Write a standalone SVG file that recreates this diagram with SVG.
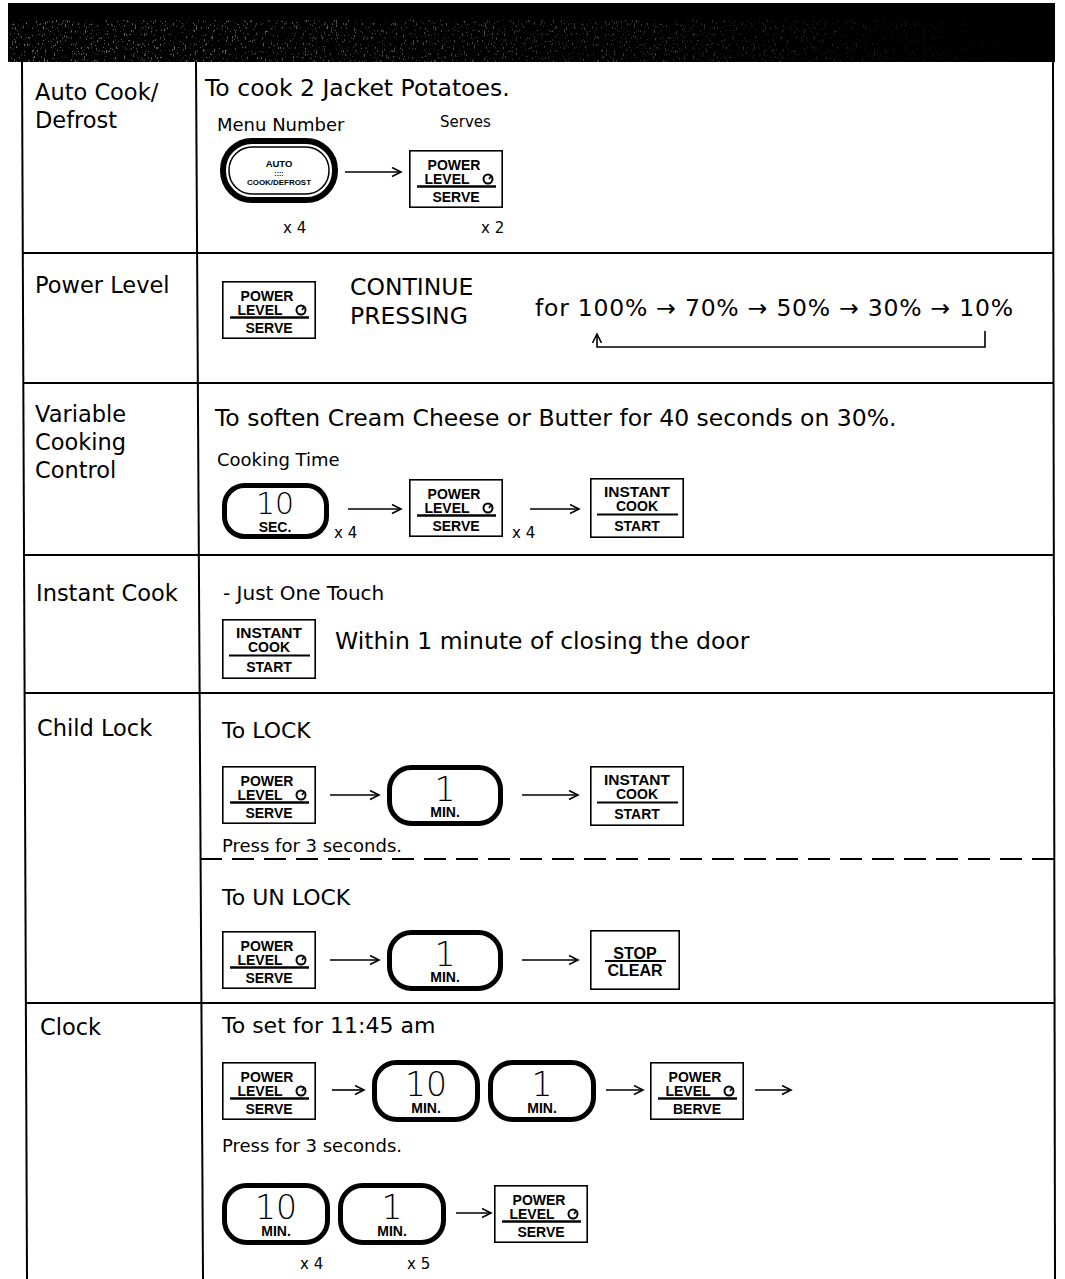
<svg xmlns="http://www.w3.org/2000/svg" width="1065" height="1279" viewBox="0 0 1065 1279">
  <style>
    .t { font-family: "DejaVu Sans", "Liberation Sans", sans-serif; fill: #000; }
    .lbl { font-size: 22.5px; }
    .body { font-size: 22px; }
    .big { font-size: 23.5px; }
    .small { font-size: 18px; }
    .tiny { font-size: 15px; }
    .key { font-family: "Liberation Sans", Arial, sans-serif; font-weight: bold; fill: #000; text-anchor: middle; }
    .dig { font-family: "DejaVu Sans", "Liberation Sans", sans-serif; font-weight: 200; fill: #000; text-anchor: middle; }
    .rule { stroke: #000; stroke-width: 2; fill: none; }
    .edge { stroke: #000; stroke-width: 1.6; fill: none; marker-end: url(#ah); }
    .box { fill: #fff; stroke: #000; stroke-width: 1.6; }
    .pill { fill: #fff; stroke: #000; stroke-width: 5; }
  </style>
  <defs>
    <marker id="ah" markerWidth="12" markerHeight="12" refX="10" refY="5" orient="auto" markerUnits="userSpaceOnUse">
      <path d="M1,0.5 L10,5 L1,9.5" fill="none" stroke="#000" stroke-width="1.6"/>
    </marker>
    <filter id="grain" x="0" y="0" width="100%" height="100%">
      <feTurbulence type="fractalNoise" baseFrequency="0.9 0.3" numOctaves="2" seed="7" result="n"/>
      <feColorMatrix in="n" type="matrix" values="0 0 0 0 0.6  0 0 0 0 0.6  0 0 0 0 0.6  10 0 0 0 -6.3"/>
    </filter>
    <linearGradient id="fade" x1="0" y1="0" x2="1" y2="0">
      <stop offset="0" stop-color="#fff" stop-opacity="0.55"/>
      <stop offset="0.6" stop-color="#fff" stop-opacity="0.3"/>
      <stop offset="1" stop-color="#fff" stop-opacity="0"/>
    </linearGradient>
    <mask id="fadeMask">
      <rect x="8" y="20" width="1047" height="42" fill="url(#fade)"/>
    </mask>

    <!-- POWER LEVEL / SERVE key -->
    <g id="pwKey">
      <rect class="box" x="0.8" y="0.8" width="92.4" height="56.4"/>
      <text class="key" x="45" y="20" font-size="14">POWER</text>
      <text class="key" x="38" y="34" font-size="14">LEVEL</text>
      <circle cx="79" cy="29" r="4.5" fill="none" stroke="#000" stroke-width="2"/>
      <path d="M80,29 L82,26" stroke="#000" stroke-width="1.5"/>
      <line x1="8" y1="36.5" x2="87" y2="36.5" stroke="#000" stroke-width="2.5"/>
      <text class="key" x="47" y="52" font-size="14">SERVE</text>
    </g>
    <g id="pwKeyB">
      <rect class="box" x="0.8" y="0.8" width="92.4" height="56.4"/>
      <text class="key" x="45" y="20" font-size="14">POWER</text>
      <text class="key" x="38" y="34" font-size="14">LEVEL</text>
      <circle cx="79" cy="29" r="4.5" fill="none" stroke="#000" stroke-width="2"/>
      <path d="M80,29 L82,26" stroke="#000" stroke-width="1.5"/>
      <line x1="8" y1="36.5" x2="87" y2="36.5" stroke="#000" stroke-width="2.5"/>
      <text class="key" x="47" y="52" font-size="14">BERVE</text>
    </g>
    <!-- INSTANT COOK / START key -->
    <g id="icKey">
      <rect class="box" x="0.8" y="0.8" width="92.4" height="58.4"/>
      <text class="key" x="47" y="19" font-size="14" textLength="66" lengthAdjust="spacingAndGlyphs">INSTANT</text>
      <text class="key" x="47" y="33" font-size="14">COOK</text>
      <line x1="7" y1="36.5" x2="88" y2="36.5" stroke="#000" stroke-width="2"/>
      <text class="key" x="47" y="53" font-size="14">START</text>
    </g>
    <!-- STOP / CLEAR key -->
    <g id="scKey">
      <rect class="box" x="0.8" y="0.8" width="88.4" height="58.4"/>
      <text class="key" x="45" y="29" font-size="16">STOP</text>
      <line x1="15" y1="31" x2="76" y2="31" stroke="#000" stroke-width="2"/>
      <text class="key" x="45" y="46" font-size="16">CLEAR</text>
    </g>
    <!-- rounded time keys -->
    <g id="min1Key">
      <rect class="pill" x="2.5" y="2.5" width="111" height="56" rx="22"/>
      <text class="dig" x="58" y="36" font-size="33">1</text>
      <text class="key" x="58" y="52" font-size="14">MIN.</text>
    </g>
    <g id="min1KeyS">
      <rect class="pill" x="2.5" y="2.5" width="103" height="57" rx="22"/>
      <text class="dig" x="54" y="36" font-size="33">1</text>
      <text class="key" x="54" y="53" font-size="14">MIN.</text>
    </g>
    <g id="min10Key">
      <rect class="pill" x="2.5" y="2.5" width="103" height="57" rx="22"/>
      <text class="dig" x="54" y="36" font-size="33">10</text>
      <text class="key" x="54" y="53" font-size="14">MIN.</text>
    </g>
  </defs>

  <rect x="0" y="0" width="1065" height="1279" fill="#fff"/>

  <!-- title band -->
  <g id="header">
    <rect x="8" y="3" width="1047" height="59" fill="#000"/>
    <rect x="8" y="20" width="1047" height="42" filter="url(#grain)" mask="url(#fadeMask)"/>
  </g>

  <!-- table frame -->
  <g id="table">
    <line class="rule" x1="22" y1="62" x2="27" y2="1279"/>
    <line class="rule" x1="1053" y1="62" x2="1055" y2="1279"/>
    <line class="rule" x1="196" y1="62" x2="203" y2="1279"/>
    <line class="rule" x1="22" y1="253" x2="1054" y2="253"/>
    <line class="rule" x1="23" y1="383" x2="1054" y2="383"/>
    <line class="rule" x1="23" y1="555" x2="1054" y2="555"/>
    <line class="rule" x1="24" y1="693" x2="1054" y2="693"/>
    <line class="rule" x1="200" y1="859" x2="1058" y2="859" stroke-dasharray="22 10"/>
    <line class="rule" x1="25" y1="1003" x2="1055" y2="1003"/>
  </g>

  <!-- row labels -->
  <g id="labels" class="t lbl">
    <text x="35" y="100">Auto Cook/</text>
    <text x="35" y="128">Defrost</text>
    <text x="35" y="293">Power Level</text>
    <text x="35" y="422">Variable</text>
    <text x="35" y="450">Cooking</text>
    <text x="35" y="478">Control</text>
    <text x="36" y="601">Instant Cook</text>
    <text x="37" y="736">Child Lock</text>
    <text x="40" y="1035">Clock</text>
  </g>

  <!-- Auto Cook / Defrost -->
  <g id="autoCook">
    <text class="t big" x="205" y="96">To cook 2 Jacket Potatoes.</text>
    <text class="t small" x="217" y="131">Menu Number</text>
    <text class="t tiny" x="440" y="127">Serves</text>
    <g id="autoKey">
      <rect x="223" y="141" width="112" height="59" rx="29" fill="#fff" stroke="#000" stroke-width="6"/>
      <rect x="229" y="147" width="100" height="47" rx="23" fill="none" stroke="#000" stroke-width="1.5"/>
      <text class="key" x="279" y="167" font-size="9.5">AUTO</text>
      <text class="key" x="279" y="176" font-size="7">::::</text>
      <text class="key" x="279" y="185" font-size="8" textLength="64" lengthAdjust="spacingAndGlyphs">COOK/DEFROST</text>
    </g>
    <use id="autoServe" href="#pwKey" x="409" y="150"/>
    <text class="t tiny" x="283" y="233">x 4</text>
    <text class="t tiny" x="481" y="233">x 2</text>
  </g>

  <!-- Power Level -->
  <g id="powerLevel">
    <use href="#pwKey" x="222" y="281"/>
    <text class="t big" x="350" y="295">CONTINUE</text>
    <text class="t big" x="350" y="324">PRESSING</text>
    <text class="t big" x="535" y="316" textLength="478" lengthAdjust="spacing">for 100% → 70% → 50% → 30% → 10%</text>
  </g>

  <!-- Variable Cooking Control -->
  <g id="variableCooking">
    <text class="t big" x="215" y="426">To soften Cream Cheese or Butter for 40 seconds on 30%.</text>
    <text class="t small" x="217" y="466">Cooking Time</text>
    <g id="sec10Key">
      <rect class="pill" x="224.5" y="485.5" width="102" height="51" rx="20"/>
      <text class="dig" x="275" y="514" font-size="30">10</text>
      <text class="key" x="275" y="532" font-size="14">SEC.</text>
    </g>
    <text class="t tiny" x="334" y="538">x 4</text>
    <use id="vcPower" href="#pwKey" x="409" y="479"/>
    <text class="t tiny" x="512" y="538">x 4</text>
    <use id="vcStart" href="#icKey" x="590" y="478"/>
  </g>

  <!-- Instant Cook -->
  <g id="instantCook">
    <text class="t" x="223" y="600" font-size="20">- Just One Touch</text>
    <use id="icStart" href="#icKey" x="222" y="619"/>
    <text class="t big" x="335" y="649">Within 1 minute of closing the door</text>
  </g>

  <!-- Child Lock -->
  <g id="childLock">
    <text class="t body" x="222" y="738">To LOCK</text>
    <use id="lockPower" href="#pwKey" x="222" y="766"/>
    <use id="lockMin" href="#min1Key" x="387" y="765"/>
    <use id="lockStart" href="#icKey" x="590" y="766"/>
    <text class="t small" x="222" y="852">Press for 3 seconds.</text>

    <text class="t body" x="222" y="905">To UN LOCK</text>
    <use id="unlockPower" href="#pwKey" x="222" y="931"/>
    <use id="unlockMin" href="#min1Key" x="387" y="930"/>
    <use id="unlockStop" href="#scKey" x="590" y="930"/>
  </g>

  <!-- Clock -->
  <g id="clock">
    <text class="t body" x="222" y="1033">To set for 11:45 am</text>
    <use id="clkPower1" href="#pwKey" x="222" y="1062"/>
    <use id="clkMin10a" href="#min10Key" x="372" y="1060"/>
    <use id="clkMin1a" href="#min1KeyS" x="488" y="1060"/>
    <use id="clkPower2" href="#pwKeyB" x="650" y="1062"/>
    <text class="t small" x="222" y="1152">Press for 3 seconds.</text>

    <use id="clkMin10b" href="#min10Key" x="222" y="1183"/>
    <use id="clkMin1b" href="#min1KeyS" x="338" y="1183"/>
    <use id="clkPower3" href="#pwKey" x="494" y="1185"/>
    <text class="t tiny" x="300" y="1269">x 4</text>
    <text class="t tiny" x="407" y="1269">x 5</text>
  </g>

  <!-- connectors -->
  <g id="connectors">
    <line class="edge" x1="345" y1="172" x2="401" y2="172"/>
    <path class="edge" d="M985,331 V347 H597 V334"/>
    <line class="edge" x1="348" y1="509" x2="401" y2="509"/>
    <line class="edge" x1="530" y1="509" x2="579" y2="509"/>
    <line class="edge" x1="330" y1="795" x2="379" y2="795"/>
    <line class="edge" x1="522" y1="795" x2="578" y2="795"/>
    <line class="edge" x1="330" y1="960" x2="379" y2="960"/>
    <line class="edge" x1="522" y1="960" x2="578" y2="960"/>
    <line class="edge" x1="332" y1="1090" x2="364" y2="1090"/>
    <line class="edge" x1="606" y1="1090" x2="643" y2="1090"/>
    <line class="edge" x1="755" y1="1090" x2="791" y2="1090"/>
    <line class="edge" x1="456" y1="1213" x2="491" y2="1213"/>
  </g>
</svg>
